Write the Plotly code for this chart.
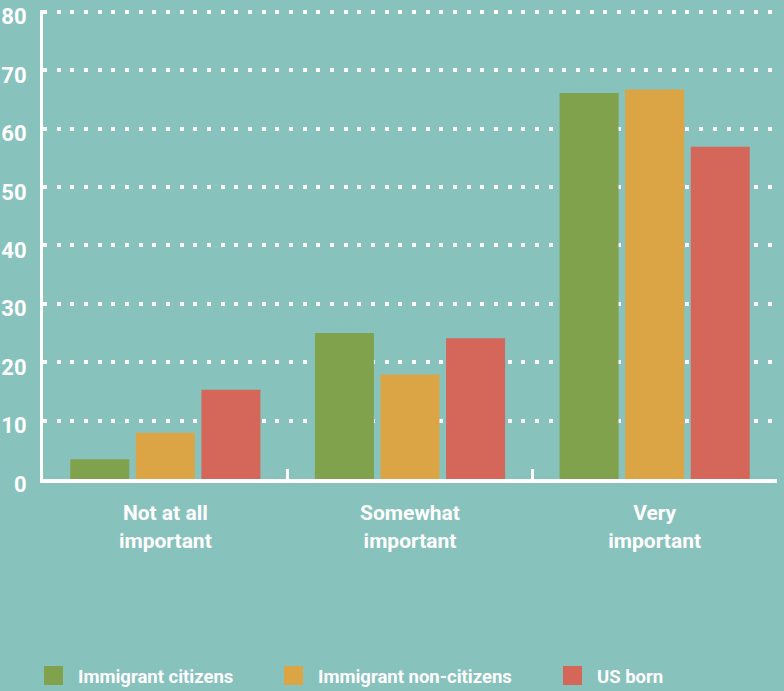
import plotly.graph_objects as go

# Survey answers grouped by how important the issue is, per respondent group (%)
categories = ["Not at all<br>important", "Somewhat<br>important", "Very<br>important"]
series_names = ["Immigrant citizens", "Immigrant non-citizens", "US born"]
immigrant_citizens = [3.4, 25.0, 66.1]
immigrant_non_citizens = [7.9, 17.9, 66.7]
us_born = [15.3, 24.1, 56.9]
y_ticks = [0, 10, 20, 30, 40, 50, 60, 70, 80]

colors = ["#80A24D", "#DBA546", "#D4665A"]
bg = "#87C2BD"
font_family = "Roboto"

W, H = 784, 691
M_L, M_R, M_T, M_B = 43, 7, 10, 212
plot_w = W - M_L - M_R
plot_h = H - M_T - M_B
Y_MAX = 80.3

fig = go.Figure()
for name, vals, col in zip(series_names,
                           [immigrant_citizens, immigrant_non_citizens, us_born],
                           colors):
    fig.add_trace(go.Bar(
        x=categories, y=vals, name=name,
        marker=dict(color=col, line=dict(width=0)),
        showlegend=False,
    ))

annotations = []
shapes = []
# Legend row: coloured squares with labels
legend_sq_x = [44, 284, 563]
legend_txt_x = [76, 316, 595]


def px_to_paper_x(px):
    return (px - M_L) / plot_w


def px_to_paper_y(py):
    return (H - M_B - py) / plot_h


for name, col, sx, tx in zip(series_names, colors, legend_sq_x, legend_txt_x):
    shapes.append(dict(
        type="rect", xref="paper", yref="paper",
        x0=px_to_paper_x(sx), x1=px_to_paper_x(sx + 19),
        y0=px_to_paper_y(685), y1=px_to_paper_y(666),
        fillcolor=col, line=dict(width=0),
    ))
    annotations.append(dict(
        x=px_to_paper_x(tx), xref="paper",
        y=px_to_paper_y(676.5), yref="paper",
        text=name, showarrow=False,
        xanchor="left", yanchor="middle",
        font=dict(family=font_family, size=18.5, color="white", weight=700),
    ))

fig.update_layout(
    template="none",
    width=W, height=H,
    margin=dict(l=M_L, r=M_R, t=M_T, b=M_B, pad=0),
    paper_bgcolor=bg, plot_bgcolor=bg,
    barmode="group", bargap=0.196, bargroupgap=0.1,
    showlegend=False,
    font=dict(family=font_family, color="white"),
    annotations=annotations,
    shapes=shapes,
    xaxis=dict(
        type="category", range=[-0.5, 2.5], automargin=False,
        tickson="boundaries",
        ticks="inside", ticklen=10, tickwidth=3, tickcolor="white",
        showline=True, linecolor="white", linewidth=4,
        showgrid=False, zeroline=False,
        ticklabelstandoff=12,
        tickfont=dict(family=font_family, size=21, color="white", weight=700),
    ),
    yaxis=dict(
        range=[0, Y_MAX], tickvals=y_ticks, automargin=False,
        showline=True, linecolor="white", linewidth=3,
        showgrid=True, gridcolor="white", gridwidth=4, griddash="4px,9.67px",
        zeroline=False, ticks="",
        ticklabelstandoff=9, ticklabelshift=5,
        tickfont=dict(family=font_family, size=22, color="white", weight=700),
    ),
)

fig.write_html("out.html")
